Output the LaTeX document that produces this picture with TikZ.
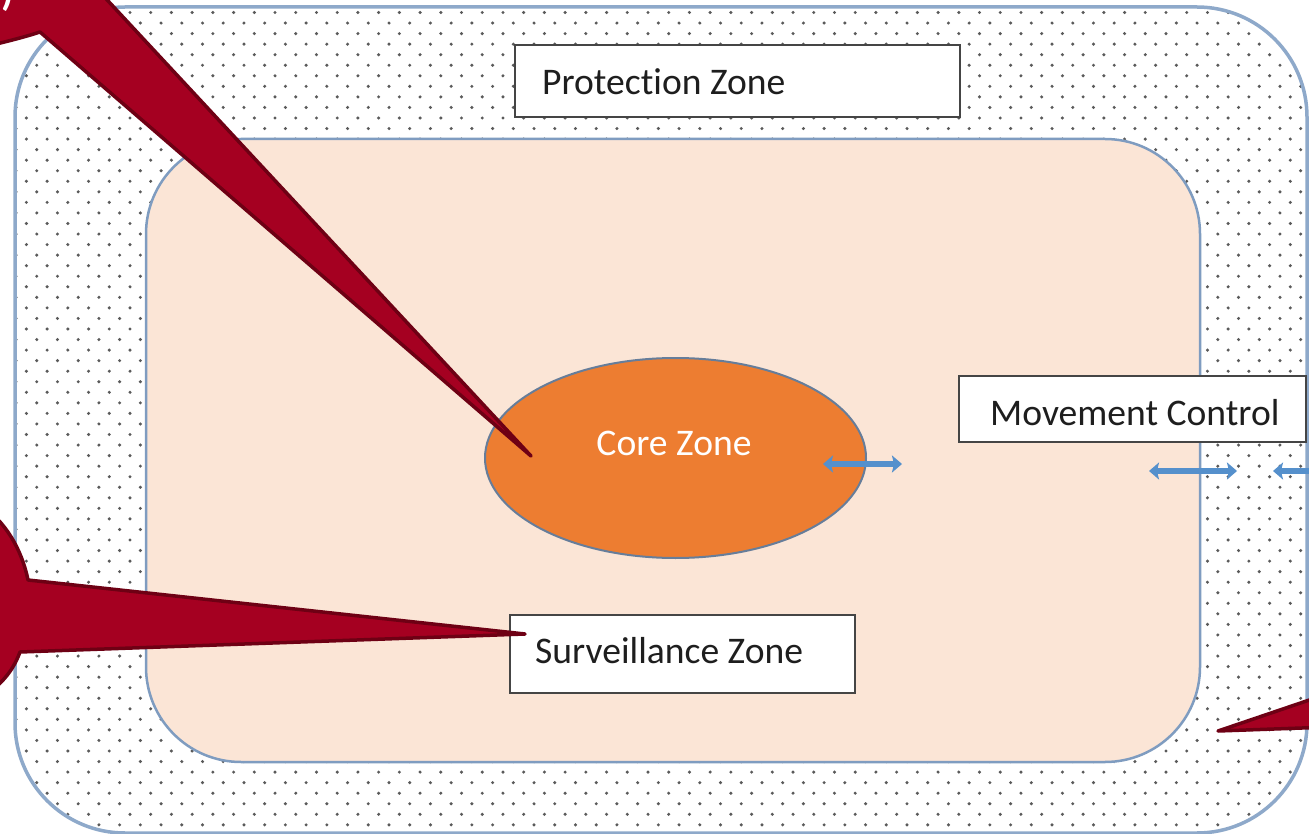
\documentclass[tikz,border=0pt]{standalone}
\usepackage{fontspec}
\setmainfont{Carlito}[Ligatures=NoCommon]
\usetikzlibrary{arrows.meta,shapes.geometric}
\definecolor{peach}{HTML}{FBE5D6}
\definecolor{coreor}{HTML}{ED7D31}
\definecolor{zoneblue}{HTML}{8EA9CA}
\definecolor{innerblue}{HTML}{7F9CC0}
\definecolor{arrowblue}{HTML}{5590CC}
\definecolor{calfill}{HTML}{A50021}
\definecolor{caledge}{HTML}{6E0014}
\definecolor{boxedge}{HTML}{454545}
\definecolor{txt}{HTML}{1E1E1E}
\definecolor{dotcol}{HTML}{5A5A5A}
\begin{document}
\begin{tikzpicture}[x=1pt,y=-1pt,
  zone/.style={inner sep=0pt, outer sep=0pt, anchor=north west},
  labelbox/.style={draw=boxedge, line width=2.8pt, fill=white, inner sep=0pt, outer sep=0pt, anchor=north west},
  boxtext/.style={text=txt, font=\fontsize{37.6}{40}\selectfont, inner sep=0pt, anchor=base west},
  dbl/.style={arrowblue, line width=6.5pt, {Stealth[length=10pt,width=17pt,inset=2pt]}-{Stealth[length=10pt,width=17pt,inset=2pt]}},
  callout/.style={fill=calfill, draw=caledge, line width=3.5pt, line join=round},
]
\useasboundingbox (0,0) rectangle (1309,834);
\clip (0,0) rectangle (1309,834);
\fill[white] (0,0) rectangle (1309,834);
% protection zone (outer)
\node[zone, minimum width=1292pt, minimum height=826pt] (outer) at (15,7) {};
\begin{scope}
\clip[rounded corners=110pt] (outer.north west) rectangle (outer.south east);
\foreach \r in {0,...,78} {
  \pgfmathsetmacro\yy{12.5+10.55*\r}
  \pgfmathsetmacro\xo{5.68+10.36*mod(\r,2)}
  \fill[dotcol] foreach \c in {0,...,63} { ({\xo+20.72*\c},\yy) circle[radius=1.7] };
}
\end{scope}
\draw[zoneblue, line width=3.5pt, rounded corners=110pt] (outer.north west) rectangle (outer.south east);
% surveillance zone (inner)
\node[zone, minimum width=1054pt, minimum height=623pt] (inner) at (146,139) {};
\draw[fill=peach, draw=innerblue, line width=2.5pt, rounded corners=95pt] (inner.north west) rectangle (inner.south east);
% core zone
\node[ellipse, fill=coreor, draw=innerblue!80!black, line width=2pt, minimum width=381pt, minimum height=200pt, inner sep=0pt] (core) at (675.5,458) {};
\node[boxtext, text=white, anchor=base] (coretext) at (674,455) {Core Zone};
% label boxes
\node[labelbox, minimum width=445pt, minimum height=72pt] (protbox) at (515,45) {};
\node[boxtext] (prottext) at (542,95) {Protection Zone};
\node[labelbox, minimum width=347pt, minimum height=66pt] (movebox) at (959,376) {};
\node[boxtext] (movetext) at (990,425) {Movement Control};
\node[labelbox, minimum width=345pt, minimum height=78pt] (survbox) at (510,615) {};
\node[boxtext] (survtext) at (535,663) {Surveillance Zone};
% movement arrows
\coordinate (a1l) at (823,464);
\coordinate (a1r) at (902,464);
\coordinate (a2l) at (1149,471);
\coordinate (a2r) at (1237,471);
\coordinate (a3l) at (1273,471);
\coordinate (a3r) at (1350,471);
\draw[dbl] (a1l) -- (a1r);
\draw[dbl] (a2l) -- (a2r);
\draw[dbl] (a3l) -- (a3r);
% callouts
\coordinate (tipA) at (531,456);
\coordinate (tipB) at (525,634);
\coordinate (tipC) at (1218,731);
\draw[callout] (-20,48) .. controls (5,42) and (25,37) .. (40,32) -- (tipA) -- (70,-40) -- (-20,-40) -- cycle;
\draw[callout] (-20,505) .. controls (5,520) and (22,550) .. (28,580) -- (tipB) -- (20,652) .. controls (14,668) and (5,682) .. (-20,700) -- cycle;
\draw[callout] (tipC) -- (1330,693) -- (1330,727) -- cycle;
\node[text=white, font=\fontsize{40}{40}\selectfont\bfseries, anchor=south, inner sep=0pt] (glyph) at (8,12) {)};
\end{tikzpicture}
\end{document}
